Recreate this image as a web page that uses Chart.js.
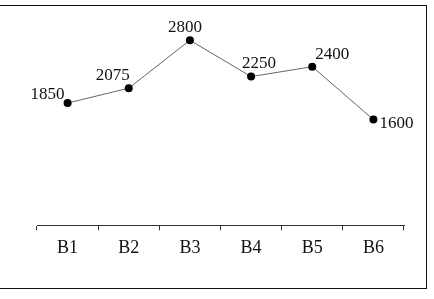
<!DOCTYPE html>
<html>
<head>
<meta charset="utf-8">
<script src="https://cdn.jsdelivr.net/npm/chart.js@4/dist/chart.umd.min.js"></script>
<style>
  html, body { margin: 0; padding: 0; background: #fff; }
  #wrap { width: 434px; height: 299px; position: relative; }
</style>
</head>
<body>
<div id="wrap"><canvas id="c" width="434" height="299"></canvas></div>
<script>
const categories = ["B1", "B2", "B3", "B4", "B5", "B6"];
const values = [1850, 2075, 2800, 2250, 2400, 1600];
const valueLabels = ["1850", "2075", "2800", "2250", "2400", "1600"];

const FONT = "'Liberation Serif', 'Times New Roman', serif";

// label offsets relative to each point (style, not data)
const labelOffsets = [
  { dx: -20, dy: -9 },
  { dx: -16, dy: -13 },
  { dx: -5, dy: -13 },
  { dx: 8, dy: -13 },
  { dx: 20, dy: -12 },
  { dx: 23, dy: 4 }
];

const framePlugin = {
  id: 'frame',
  beforeDraw(chart) {
    const ctx = chart.ctx;
    ctx.save();
    ctx.fillStyle = '#fff';
    ctx.fillRect(0, 0, chart.width, chart.height);
    ctx.strokeStyle = '#111';
    ctx.lineWidth = 1;
    ctx.strokeRect(-2.5, 5.5, 429, 283);
    ctx.restore();
  }
};

const labelPlugin = {
  id: 'valueLabels',
  afterDatasetsDraw(chart) {
    const ctx = chart.ctx;
    const meta = chart.getDatasetMeta(0);
    ctx.save();
    ctx.fillStyle = '#111';
    ctx.font = '17px ' + FONT;
    ctx.textAlign = 'center';
    ctx.textBaseline = 'middle';
    meta.data.forEach((pt, i) => {
      const o = labelOffsets[i];
      ctx.fillText(valueLabels[i], pt.x + o.dx, pt.y + o.dy);
    });
    ctx.restore();
  }
};

new Chart(document.getElementById('c'), {
  type: 'line',
  data: {
    labels: categories,
    datasets: [{
      data: values,
      borderColor: '#666',
      borderWidth: 1,
      pointBackgroundColor: '#000',
      pointBorderColor: '#000',
      pointRadius: 4,
      pointBorderWidth: 0,
      tension: 0,
      fill: false,
      clip: false
    }]
  },
  options: {
    responsive: false,
    animation: false,
    events: [],
    layout: { padding: { left: 37, right: 30, top: 27, bottom: 33 } },
    plugins: { legend: { display: false }, tooltip: { enabled: false } },
    scales: {
      x: {
        type: 'category',
        offset: true,
        grid: {
          offset: true,
          drawOnChartArea: false,
          drawTicks: true,
          tickLength: 5,
          color: '#333',
          lineWidth: 1
        },
        border: { display: true, color: '#333', width: 1 },
        ticks: {
          color: '#111',
          padding: 7,
          font: { family: FONT, size: 18 }
        }
      },
      y: {
        display: false,
        min: 0,
        max: 3000
      }
    }
  },
  plugins: [framePlugin, labelPlugin]
});
</script>
</body>
</html>
